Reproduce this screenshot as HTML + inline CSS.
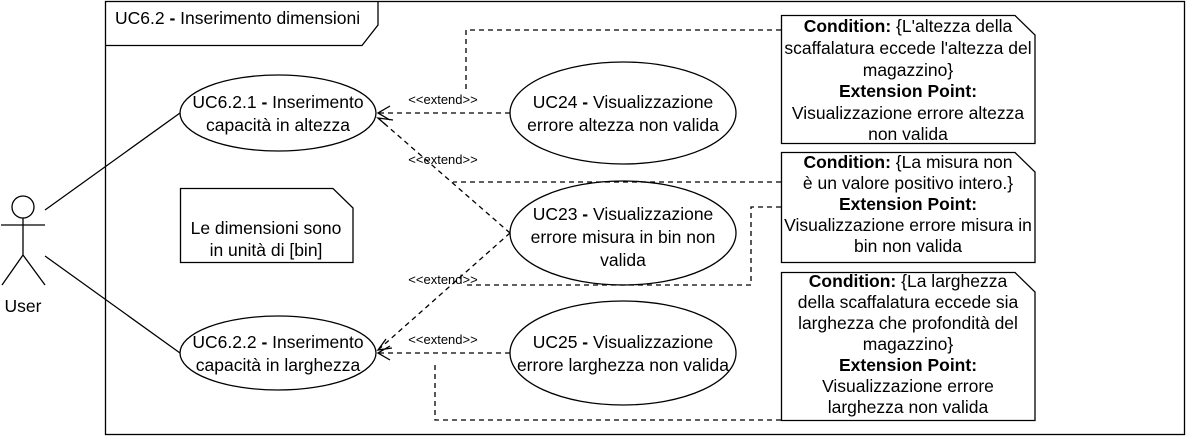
<!DOCTYPE html>
<html><head><meta charset="utf-8"><style>body{margin:0;background:#fff}svg{display:block}</style></head><body>
<svg width="1188" height="437" viewBox="0 0 1188 437" xmlns="http://www.w3.org/2000/svg" font-family="Liberation Sans, sans-serif">
<g fill="none" stroke="#000" stroke-width="1.3">
<rect x="105.5" y="1.5" width="1079" height="433"/>
<path d="M105.5 45.5H362L378 25V1.5"/>
<circle cx="23" cy="207" r="11"/>
<path d="M23 218V255M1 225H45M23 255L2 285M23 255L45 285"/>
<path d="M45 210L180 113M45 256L180 353"/>
<ellipse cx="278" cy="113" rx="98" ry="38"/>
<ellipse cx="278" cy="353" rx="98" ry="37"/>
<ellipse cx="623" cy="113" rx="113" ry="51"/>
<ellipse cx="623" cy="233" rx="113" ry="52"/>
<ellipse cx="623" cy="353" rx="113" ry="52"/>
<path d="M180.5 188.5H333L353 208V262.5H180.5Z"/>
<path d="M781.5 15.5H1015L1035 35V143.5H781.5Z"/>
<path d="M781.5 152.5H1015L1035 172V262.5H781.5Z"/>
<path d="M781.5 272.5H1015L1035 292V420.5H781.5Z"/>
<g stroke-dasharray="5,4">
<path d="M510 113H378M510 233L378 118M510 233L378 350M510 353H378"/>
<path d="M781 30H466V90M781 182H453M781 207H751V285H467M781 420H435V365"/>
</g>
<path d="M390 106L378 113L390 120M386 125L378 118L393 120M386 339L378 350L392 348M390 346L378 353L390 360"/>
</g>
<g font-size="17.5" fill="#000" text-anchor="middle">
<text x="115" y="24" text-anchor="start">UC6.2 <tspan font-weight="bold">-</tspan> Inserimento dimensioni</text>
<text x="23" y="312">User</text>
<text x="278" y="108">UC6.2.1 <tspan font-weight="bold">-</tspan> Inserimento</text>
<text x="278" y="131">capacità in altezza</text>
<text x="278" y="348">UC6.2.2 <tspan font-weight="bold">-</tspan> Inserimento</text>
<text x="278" y="371">capacità in larghezza</text>
<text x="623" y="108">UC24 <tspan font-weight="bold">-</tspan> Visualizzazione</text>
<text x="623" y="131">errore altezza non valida</text>
<text x="623" y="220">UC23 <tspan font-weight="bold">-</tspan> Visualizzazione</text>
<text x="623" y="243">errore misura in bin non</text>
<text x="623" y="266">valida</text>
<text x="623" y="348">UC25 <tspan font-weight="bold">-</tspan> Visualizzazione</text>
<text x="623" y="371">errore larghezza non valida</text>
<text x="266" y="234">Le dimensioni sono</text>
<text x="266" y="256">in unità di [bin]</text>
<g>
<text x="908" y="32"><tspan font-weight="bold">Condition:</tspan>  {L'altezza della</text>
<text x="908" y="54">scaffalatura eccede l'altezza del</text>
<text x="908" y="76">magazzino}</text>
<text x="908" y="97" font-weight="bold">Extension Point:</text>
<text x="908" y="119">Visualizzazione errore altezza</text>
<text x="908" y="140">non valida</text>
<text x="908" y="168"><tspan font-weight="bold">Condition:</tspan>  {La misura non</text>
<text x="908" y="189">è un valore positivo intero.}</text>
<text x="908" y="210" font-weight="bold">Extension Point:</text>
<text x="908" y="231">Visualizzazione errore misura in</text>
<text x="908" y="252">bin non valida</text>
<text x="908" y="287"><tspan font-weight="bold">Condition:</tspan>  {La larghezza</text>
<text x="908" y="308">della scaffalatura eccede sia</text>
<text x="908" y="329">larghezza che profondità del</text>
<text x="908" y="350">magazzino}</text>
<text x="908" y="371" font-weight="bold">Extension Point:</text>
<text x="908" y="392">Visualizzazione errore</text>
<text x="908" y="413">larghezza non valida</text>
</g>
</g>
<g font-size="13" fill="#000" text-anchor="middle">
<text x="443" y="104">&lt;&lt;extend&gt;&gt;</text>
<text x="443" y="164">&lt;&lt;extend&gt;&gt;</text>
<text x="443" y="284">&lt;&lt;extend&gt;&gt;</text>
<text x="443" y="344">&lt;&lt;extend&gt;&gt;</text>
</g>
</svg>
</body></html>
